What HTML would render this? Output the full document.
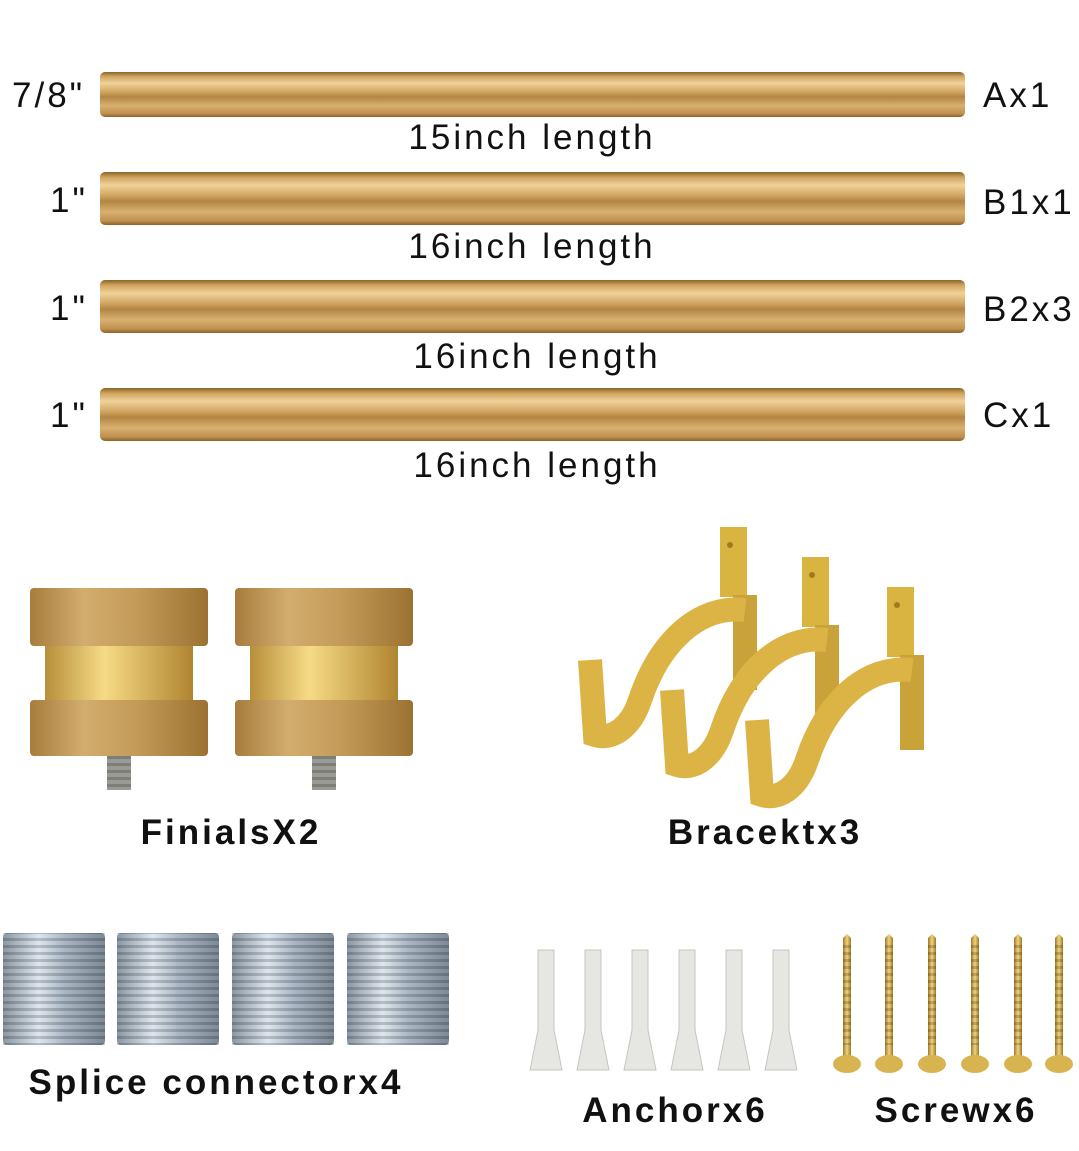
<!DOCTYPE html>
<html><head><meta charset="utf-8"><style>
body{margin:0;width:1079px;height:1151px;background:#fff;position:relative;overflow:hidden;font-family:"Liberation Sans",sans-serif}
.t{position:absolute;font-size:35px;color:#111;white-space:nowrap;letter-spacing:3px}
.b{position:absolute;font-size:35px;font-weight:bold;color:#111;white-space:nowrap;letter-spacing:3px;transform:translateX(-50%)}
.rod{position:absolute;left:100px;width:865px;border-radius:5px;background:linear-gradient(#8a6428 0%,#d0a460 10%,#f0d29a 25%,#cfa35e 45%,#b38543 55%,#d8b070 75%,#c09050 92%,#8a6428 100%)}
.len{position:absolute;font-size:35px;color:#111;transform:translateX(-50%);letter-spacing:3px;white-space:nowrap}
</style></head><body>
<div class="rod" style="top:72px;height:45px"></div>
<div class="rod" style="top:172px;height:53px"></div>
<div class="rod" style="top:280px;height:53px"></div>
<div class="rod" style="top:388px;height:53px"></div>
<div class="t" style="left:12px;top:76px">7/8"</div>
<div class="t" style="left:50px;top:181px">1"</div>
<div class="t" style="left:50px;top:289px">1"</div>
<div class="t" style="left:50px;top:396px">1"</div>
<div class="t" style="left:983px;top:76px">Ax1</div>
<div class="t" style="left:983px;top:183px">B1x1</div>
<div class="t" style="left:983px;top:290px">B2x3</div>
<div class="t" style="left:983px;top:396px">Cx1</div>
<div class="len" style="left:532px;top:118px">15inch length</div>
<div class="len" style="left:532px;top:227px">16inch length</div>
<div class="len" style="left:537px;top:337px">16inch length</div>
<div class="len" style="left:537px;top:446px">16inch length</div>

<svg style="position:absolute;left:0;top:0" width="1079" height="1151">
<defs>
<linearGradient id="fg" x1="0" x2="1"><stop offset="0" stop-color="#a77c3d"/><stop offset=".3" stop-color="#d2ad6e"/><stop offset=".6" stop-color="#c49a58"/><stop offset="1" stop-color="#9c7232"/></linearGradient>
<linearGradient id="fm" x1="0" x2="1"><stop offset="0" stop-color="#b88e3a"/><stop offset=".4" stop-color="#f6db86"/><stop offset="1" stop-color="#b08430"/></linearGradient>
<linearGradient id="sv" x1="0" x2="1"><stop offset="0" stop-color="#8a97a4"/><stop offset=".35" stop-color="#dde6ee"/><stop offset=".6" stop-color="#aab8c6"/><stop offset="1" stop-color="#7c8996"/></linearGradient>
<pattern id="th" width="8" height="7" patternUnits="userSpaceOnUse"><rect width="8" height="3" fill="#000" opacity=".18"/></pattern>
<linearGradient id="sc" x1="0" x2="1"><stop offset="0" stop-color="#a07a2a"/><stop offset=".5" stop-color="#f0d37e"/><stop offset="1" stop-color="#a07a2a"/></linearGradient>
</defs>
<g id="fin">
<rect x="30" y="588" width="178" height="58" rx="4" fill="url(#fg)"/>
<rect x="45" y="646" width="148" height="54" fill="url(#fm)"/>
<rect x="30" y="700" width="178" height="56" rx="4" fill="url(#fg)"/>
<rect x="107" y="756" width="24" height="34" fill="#9a9a94"/>
<rect x="107" y="756" width="24" height="34" fill="url(#th)"/>
</g>
<use href="#fin" x="205"/>
<g fill="none" stroke-linecap="butt">
<g id="br">
<rect x="720" y="527" width="27" height="70" fill="#d9b440"/>
<path d="M745 595 L745 690" stroke="#caa23a" stroke-width="24"/>
<path d="M745 610 C700 605 660 640 640 700 C630 730 610 740 595 735 L590 660" stroke="#dcb446" stroke-width="24"/>
<circle cx="730" cy="545" r="3" fill="#a07a20"/>
</g>
<use href="#br" x="82" y="30"/>
<use href="#br" x="167" y="60"/>
</g>
<g id="sp">
<rect x="3" y="933" width="102" height="112" rx="4" fill="url(#sv)"/>
<rect x="3" y="933" width="102" height="112" fill="url(#th)"/>
</g>
<use href="#sp" x="114"/><use href="#sp" x="229"/><use href="#sp" x="344"/>
<g id="an">
<path d="M538 950 h16 v80 l8 40 h-32 l8 -40 z" fill="#e6e6e2" stroke="#c6c6c0"/>
</g>
<use href="#an" x="47"/><use href="#an" x="94"/><use href="#an" x="141"/><use href="#an" x="188"/><use href="#an" x="235"/>
<g id="sw">
<path d="M843 938 l4 -4 l4 4 v120 h-8 z" fill="url(#sc)"/>
<rect x="843" y="945" width="8" height="100" fill="url(#th)"/>
<ellipse cx="847" cy="1064" rx="14" ry="9" fill="#d8b450"/>
</g>
<use href="#sw" x="42"/><use href="#sw" x="85"/><use href="#sw" x="128"/><use href="#sw" x="171"/><use href="#sw" x="212"/>
</svg>
<div class="b" style="left:231px;top:813px">FinialsX2</div>
<div class="b" style="left:765px;top:813px">Bracektx3</div>
<div class="b" style="left:216px;top:1063px">Splice connectorx4</div>
<div class="b" style="left:675px;top:1091px">Anchorx6</div>
<div class="b" style="left:956px;top:1091px">Screwx6</div>
</body></html>
